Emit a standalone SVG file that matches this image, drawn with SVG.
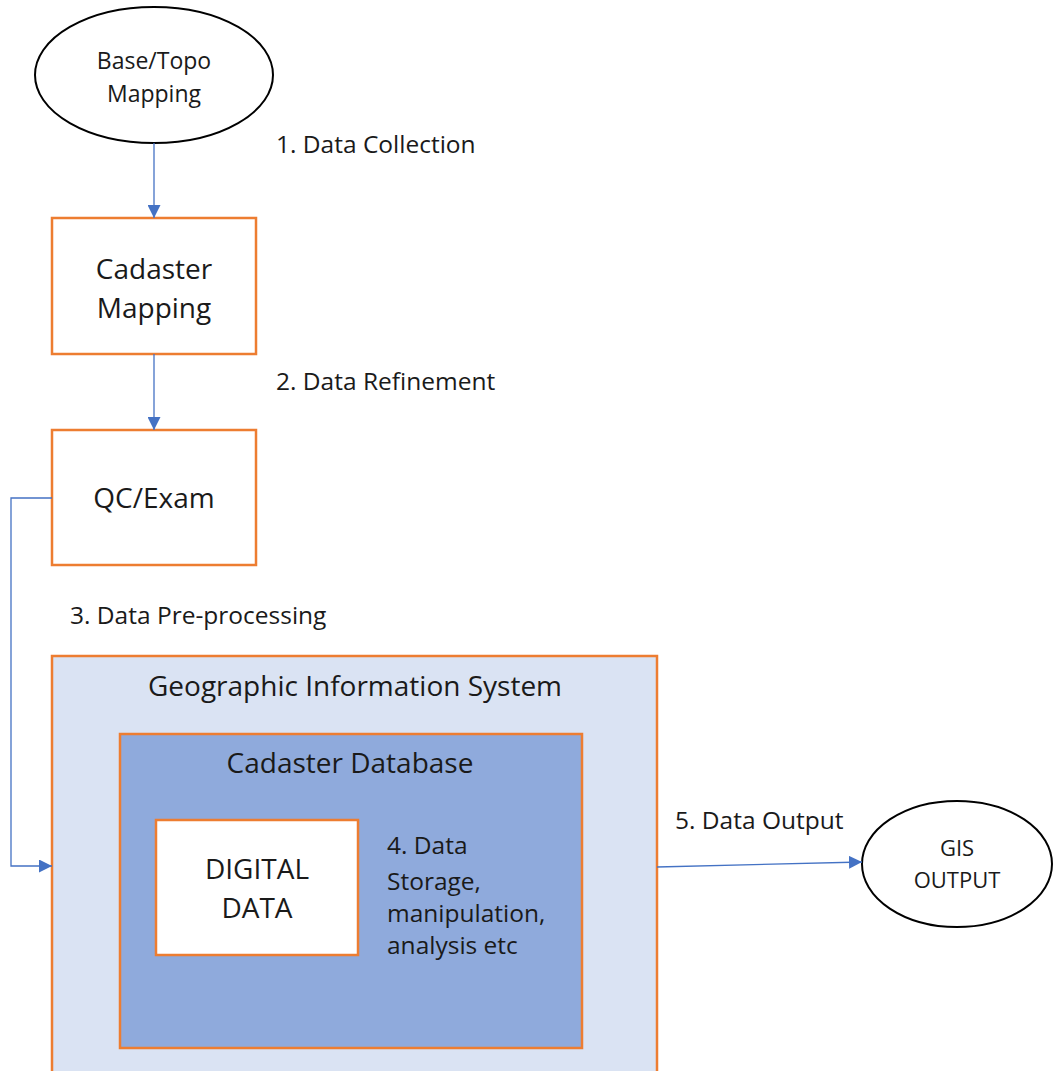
<svg xmlns="http://www.w3.org/2000/svg" width="1055" height="1071" viewBox="0 0 1055 1071">
<style>
text{font-family:"Open Sans","Liberation Sans",sans-serif;fill:#1a1a1a}
.box{stroke:#ED7D31;stroke-width:2.5}
.ell{fill:#fff;stroke:#000;stroke-width:2}
.c{stroke:#4472C4;stroke-width:1.3;fill:none}
.l{font-size:24.5px}
.n{font-size:28px;text-anchor:middle}
.s{font-size:23px;text-anchor:middle}
.g{font-size:22px;text-anchor:middle}
</style>
<defs>
<marker id="ah" viewBox="0 0 10 10" refX="10" refY="5" markerWidth="13" markerHeight="13" markerUnits="userSpaceOnUse" orient="auto"><path d="M0,0L10,5L0,10z" fill="#4472C4"/></marker>
</defs>
<rect width="1055" height="1071" fill="#fff"/>
<g id="gis">
<rect class="box" x="52" y="656" width="605" height="430" fill="#DAE3F3"/>
<text class="n" x="355" y="696">Geographic Information System</text>
</g>
<g id="cadaster-db">
<rect class="box" x="120" y="734" width="462" height="314" fill="#8FAADC"/>
<text class="n" x="350" y="773">Cadaster Database</text>
</g>
<g id="digital-data">
<rect class="box" x="156" y="820" width="202" height="135" fill="#fff"/>
<text class="n" x="257" y="879">DIGITAL</text>
<text class="n" x="257" y="918">DATA</text>
</g>
<g id="storage-label">
<text class="l" x="387" y="854">4. Data</text>
<text class="l" x="387" y="890">Storage,</text>
<text class="l" x="387" y="922">manipulation,</text>
<text class="l" x="387" y="954">analysis etc</text>
</g>
<g id="base-topo">
<ellipse class="ell" cx="154" cy="75" rx="119" ry="68"/>
<text class="s" x="154" y="69">Base/Topo</text>
<text class="s" x="154" y="102">Mapping</text>
</g>
<g id="cadaster-mapping">
<rect class="box" x="52" y="218" width="204" height="136" fill="#fff"/>
<text class="n" x="154" y="279">Cadaster</text>
<text class="n" x="154" y="318">Mapping</text>
</g>
<g id="qc-exam">
<rect class="box" x="52" y="430" width="204" height="135" fill="#fff"/>
<text class="n" x="154" y="508">QC/Exam</text>
</g>
<g id="gis-output">
<ellipse class="ell" cx="957" cy="864" rx="95" ry="63"/>
<text class="g" x="957" y="856">GIS</text>
<text class="g" x="957" y="888">OUTPUT</text>
</g>
<g id="connectors">
<path class="c" d="M154,143V218" marker-end="url(#ah)"/>
<path class="c" d="M154,354V430" marker-end="url(#ah)"/>
<path class="c" d="M52,498H11V866H52" marker-end="url(#ah)"/>
<path class="c" d="M657,867L862,862" marker-end="url(#ah)"/>
</g>
<g id="labels">
<text class="l" x="276" y="153">1. Data Collection</text>
<text class="l" x="276" y="390">2. Data Refinement</text>
<text class="l" x="70" y="624">3. Data Pre-processing</text>
<text class="l" x="675" y="829">5. Data Output</text>
</g>
</svg>
